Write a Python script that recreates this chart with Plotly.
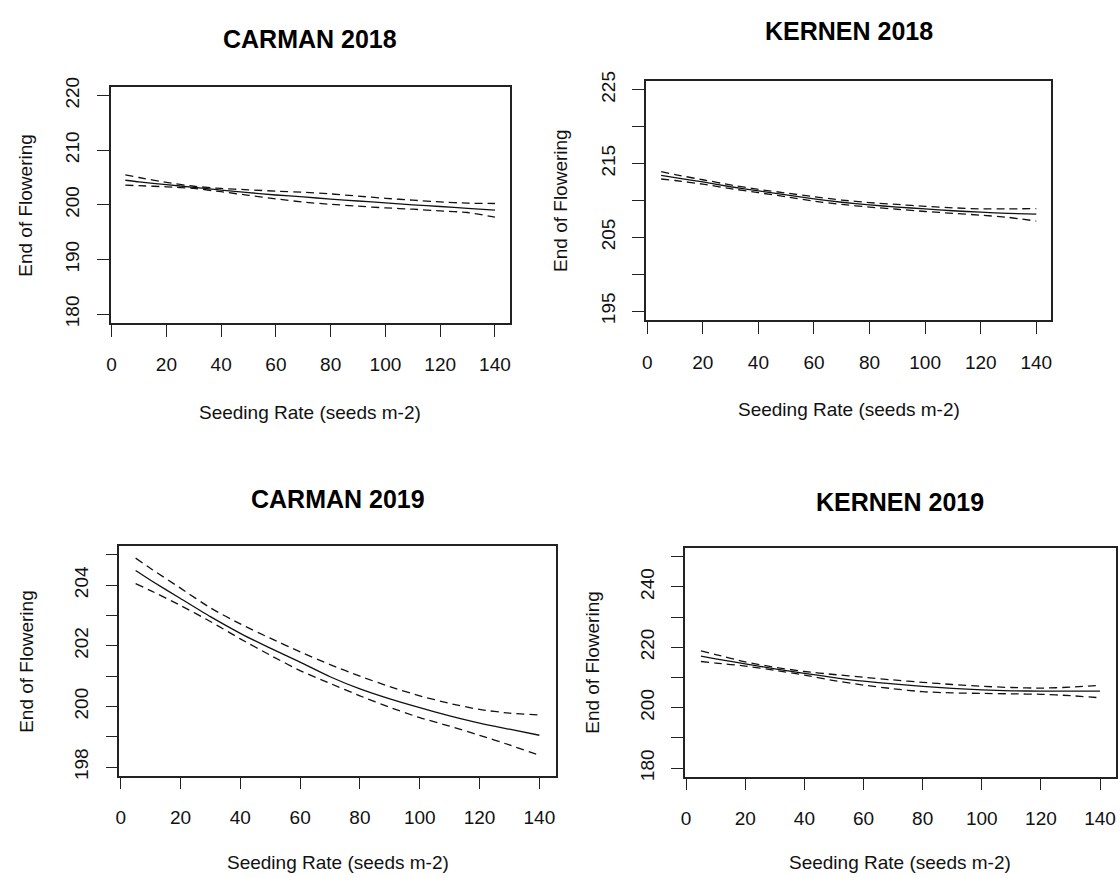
import plotly.graph_objects as go

# ---------------- data ----------------
seeding_rate = [5, 10, 20, 30, 40, 50, 60, 70, 80, 90, 100, 110, 120, 130, 140]

titles = ["CARMAN 2018", "KERNEN 2018", "CARMAN 2019", "KERNEN 2019"]

carman18_fit = [204.5, 204.2, 203.7, 203.2, 202.7, 202.25, 201.8, 201.45, 201.05, 200.7, 200.35, 200.0, 199.7, 199.35, 199.05]
carman18_upr = [205.5, 205.0, 204.1, 203.4, 203.0, 202.75, 202.5, 202.3, 202.0, 201.6, 201.2, 200.85, 200.55, 200.3, 200.25]
carman18_lwr = [203.6, 203.5, 203.3, 203.0, 202.4, 201.75, 201.1, 200.5, 200.1, 199.75, 199.45, 199.2, 198.9, 198.6, 197.75]

kernen18_fit = [213.4, 213.1, 212.5, 211.85, 211.3, 210.75, 210.2, 209.75, 209.4, 209.1, 208.85, 208.6, 208.4, 208.25, 208.15]
kernen18_upr = [213.9, 213.5, 212.8, 212.1, 211.5, 211.0, 210.5, 210.05, 209.7, 209.45, 209.2, 209.0, 208.85, 208.85, 208.9]
kernen18_lwr = [212.9, 212.7, 212.2, 211.6, 211.05, 210.5, 209.9, 209.45, 209.1, 208.8, 208.5, 208.25, 208.0, 207.7, 207.2]

carman19_fit = [204.48, 204.16, 203.56, 202.96, 202.41, 201.92, 201.46, 200.98, 200.58, 200.25, 199.96, 199.69, 199.45, 199.25, 199.05]
carman19_upr = [204.89, 204.55, 203.9, 203.25, 202.72, 202.25, 201.8, 201.38, 201.0, 200.65, 200.35, 200.1, 199.9, 199.78, 199.72]
carman19_lwr = [204.05, 203.82, 203.33, 202.8, 202.23, 201.69, 201.18, 200.76, 200.35, 199.97, 199.63, 199.35, 199.05, 198.73, 198.39]

kernen19_fit = [217.1, 216.2, 214.5, 212.9, 211.4, 210.0, 208.8, 207.9, 207.1, 206.4, 205.9, 205.6, 205.5, 205.5, 205.5]
kernen19_upr = [218.8, 217.6, 215.2, 213.4, 212.0, 211.0, 210.1, 209.2, 208.4, 207.7, 207.1, 206.7, 206.5, 206.8, 207.4]
kernen19_lwr = [215.3, 214.8, 213.8, 212.4, 210.8, 209.0, 207.5, 206.3, 205.3, 204.9, 204.75, 204.6, 204.45, 204.0, 203.3]

x_ticks = [0, 20, 40, 60, 80, 100, 120, 140]
y_ticks = [
    [180, 190, 200, 210, 220],
    [195, 200, 205, 210, 215, 220, 225],
    [198, 199, 200, 201, 202, 203, 204, 205],
    [180, 190, 200, 210, 220, 230, 240, 250],
]
y_ticklabels = [
    ["180", "190", "200", "210", "220"],
    ["195", "", "205", "", "215", "", "225"],
    ["198", "", "200", "", "202", "", "204", ""],
    ["180", "", "200", "", "220", "", "240", ""],
]
y_ranges = [[178.4, 221.6], [193.8, 226.2], [197.72, 205.28], [177.2, 252.8]]
x_range = [-0.4, 145.4]

series = [
    (carman18_fit, carman18_upr, carman18_lwr),
    (kernen18_fit, kernen18_upr, kernen18_lwr),
    (carman19_fit, carman19_upr, carman19_lwr),
    (kernen19_fit, kernen19_upr, kernen19_lwr),
]

# ---------------- layout geometry (pixels) ----------------
W, H = 1120, 878
boxes = [  # left, right, top, bottom
    (107, 508, 78, 318),
    (645, 1052, 72, 315),
    (116, 554, 545, 778),
    (684, 1117, 547, 779),
]
title_y = [29, 21, 497, 500]
xlab_y = [409, 406, 866, 866]
ylab_x = [22, 559, 23, 591]

FONT = "Liberation Sans, Arial, sans-serif"
fig = go.Figure()
annotations = []

for i, (fit, upr, lwr) in enumerate(series):
    n = "" if i == 0 else str(i + 1)
    xa, ya = "x" + n, "y" + n
    for vals, dash in ((upr, "8px,5px"), (lwr, "8px,5px"), (fit, "solid")):
        fig.add_trace(go.Scatter(
            x=seeding_rate, y=vals, xaxis=xa, yaxis=ya, mode="lines",
            line=dict(color="#111111", width=1.3, dash=dash, shape="spline", smoothing=0.6),
            showlegend=False, hoverinfo="skip"))
    l, r, t, b = boxes[i]
    common = dict(showline=True, mirror=True, linecolor="#222222", linewidth=1.5,
                  ticks="outside", ticklen=12, tickwidth=1.3, tickcolor="#222222",
                  showgrid=False, zeroline=False, fixedrange=True,
                  tickfont=dict(family=FONT, size=19, color="#111111"))
    fig.update_layout(**{
        "xaxis" + n: dict(domain=[l / W, r / W], range=x_range, anchor=ya,
                          tickvals=x_ticks, ticktext=[str(v) for v in x_ticks],
                          ticklabelstandoff=12, **common),
        "yaxis" + n: dict(domain=[1 - b / H, 1 - t / H], range=y_ranges[i], anchor=xa,
                          tickvals=y_ticks[i], ticktext=y_ticklabels[i], tickangle=-90,
                          ticklabelstandoff=10, **common),
    })
    cx = (l + r) / 2
    cy = (t + b) / 2
    annotations.append(dict(text="<b>" + titles[i] + "</b>", x=cx / W, y=1 - title_y[i] / H,
                            xref="paper", yref="paper", showarrow=False,
                            xanchor="center", yanchor="middle",
                            font=dict(family=FONT, size=25, color="#000000")))
    annotations.append(dict(text="Seeding Rate (seeds m-2)", x=cx / W, y=1 - xlab_y[i] / H,
                            xref="paper", yref="paper", showarrow=False,
                            xanchor="center", yanchor="middle",
                            font=dict(family=FONT, size=19, color="#111111")))
    annotations.append(dict(text="End of Flowering", x=ylab_x[i] / W, y=1 - cy / H,
                            xref="paper", yref="paper", showarrow=False, textangle=-90,
                            xanchor="center", yanchor="middle",
                            font=dict(family=FONT, size=19, color="#111111")))

fig.update_layout(width=W, height=H, margin=dict(l=0, r=0, t=0, b=0),
                  paper_bgcolor="white", plot_bgcolor="white",
                  annotations=annotations, showlegend=False)

fig.write_html("out.html")
